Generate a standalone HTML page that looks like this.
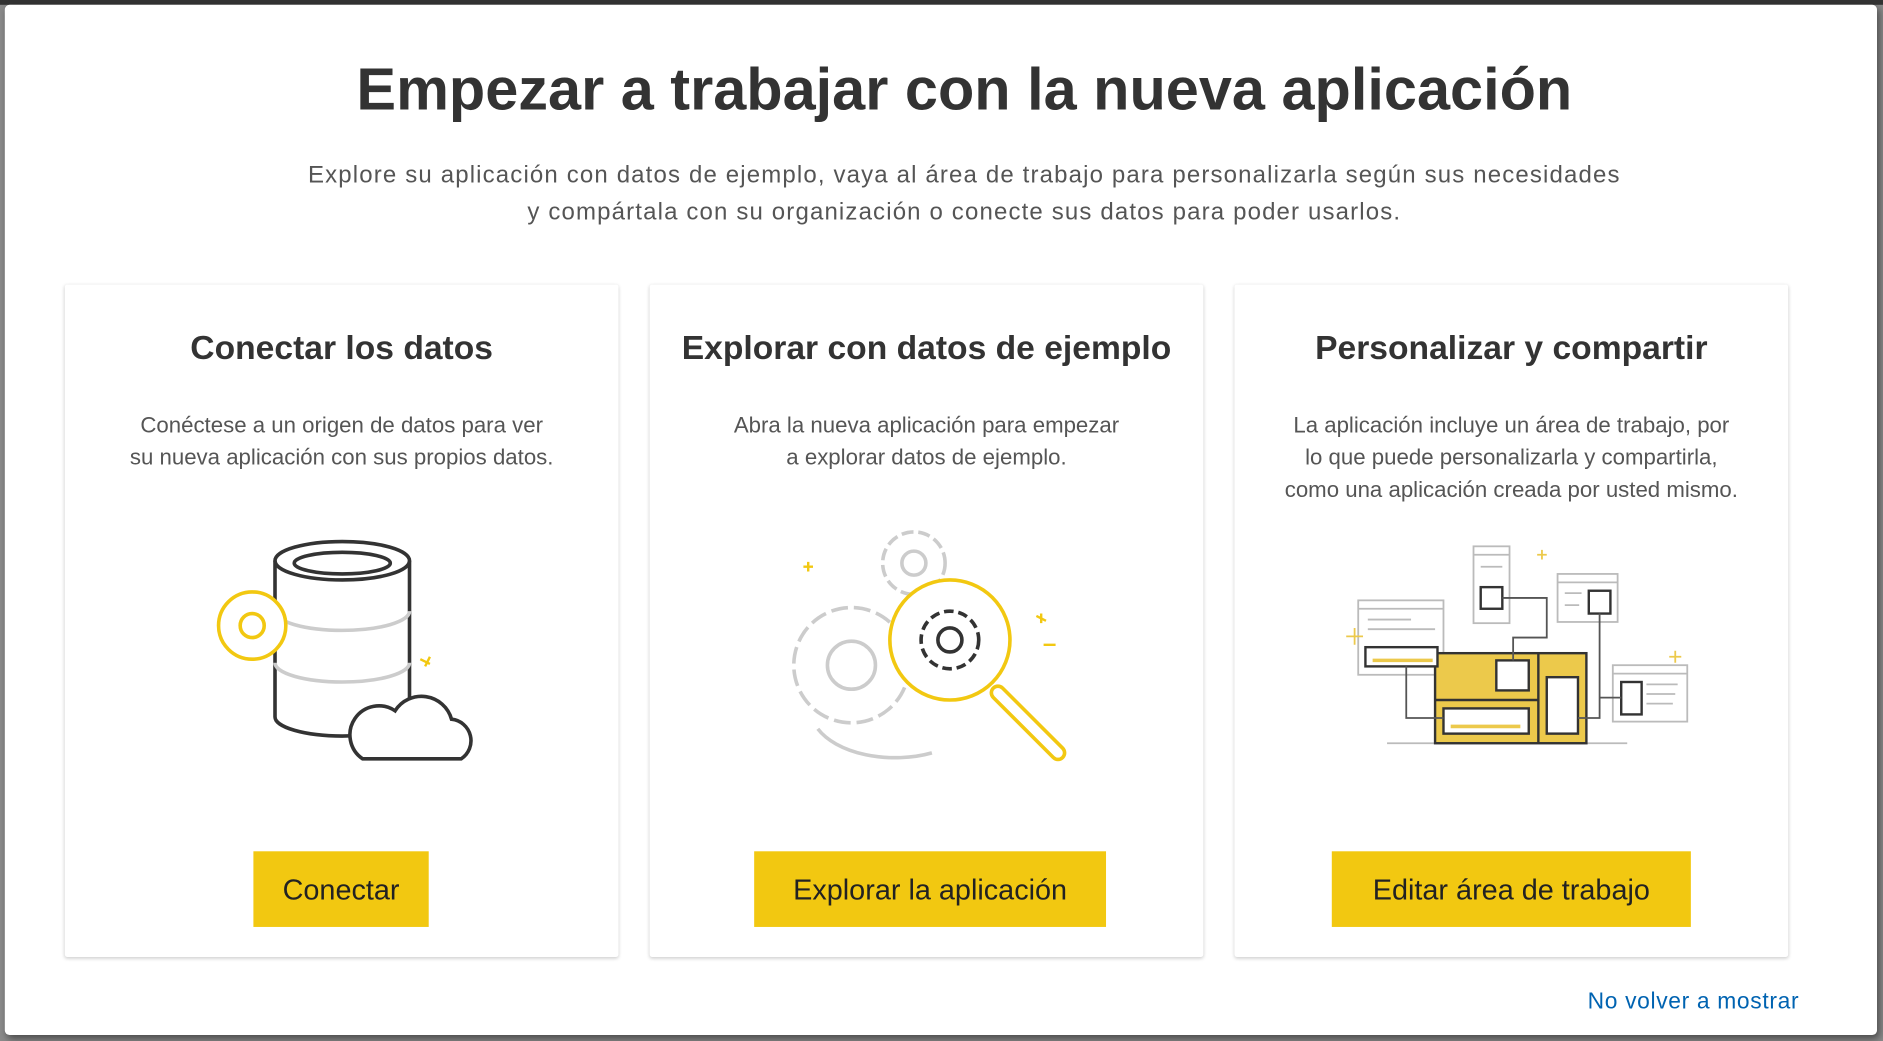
<!DOCTYPE html>
<html><head><meta charset="utf-8"><style>
html,body{margin:0;padding:0;width:1883px;height:1041px;overflow:hidden;background:#8a8a8a;}
#w{position:absolute;left:0;top:0;width:1568px;height:867px;transform:scale(1.2009,1.2007);transform-origin:0 0;font-family:"Segoe UI","Liberation Sans",sans-serif;}
.dlg{position:absolute;left:4px;top:4px;width:1559px;height:858px;background:#fff;border-radius:4px;box-shadow:2px 3px 6px rgba(0,0,0,.45);}
.t{position:absolute;left:19px;width:1568px;text-align:center;color:#333;}
.card{position:absolute;top:237px;width:461px;height:560px;background:#fff;box-shadow:0 1px 3px rgba(0,0,0,.2);border-radius:2px;}
.card h2{position:absolute;top:37px;left:0;width:100%;margin:0;text-align:center;font-size:28px;font-weight:bold;color:#333;}
.card p{position:absolute;top:103px;left:0;width:100%;margin:0;text-align:center;font-size:18.5px;line-height:27px;color:#555;}
.btn{position:absolute;top:472px;height:63px;background:#f2c811;color:#222;font-size:24px;line-height:66px;text-align:center;}
svg{position:absolute;}
</style></head><body><div id="w">
<div style="position:absolute;left:0;top:0;width:1568px;height:4px;background:#333"></div>
<div class="dlg"></div>
<div class="t" style="top:46px;font-size:49.5px;font-weight:bold;">Empezar a trabajar con la nueva aplicación</div>
<div class="t" style="top:131px;font-size:20px;line-height:31px;color:#555;letter-spacing:0.95px;">Explore su aplicación con datos de ejemplo, vaya al área de trabajo para personalizarla según sus necesidades<br>y compártala con su organización o conecte sus datos para poder usarlos.</div>

<div class="card" style="left:54px"><h2>Conectar los datos</h2><p>Conéctese a un origen de datos para ver<br>su nueva aplicación con sus propios datos.</p>
<svg style="left:110px;top:200px" width="250" height="210" viewBox="0 0 250 210">
<g fill="none" stroke="#333" stroke-width="3"><path d="M65 30 V160 A56 16 0 0 0 177 160 V30"/><ellipse cx="121" cy="30" rx="56" ry="16"/><ellipse cx="121" cy="32" rx="40" ry="9"/></g>
<g fill="none" stroke="#ccc" stroke-width="3"><path d="M65 72 A56 16 0 0 0 177 72"/><path d="M65 115 A56 16 0 0 0 177 115"/></g>
<circle cx="46" cy="84" r="28" fill="#fff" stroke="#f2c811" stroke-width="3"/><circle cx="46" cy="84" r="10" fill="none" stroke="#f2c811" stroke-width="3"/>
<path d="M138 195 H220 A18 18 0 0 0 212 162 A26 26 0 0 0 165 155 A20 20 0 0 0 138 195Z" fill="#fff" stroke="#333" stroke-width="3"/>
<path d="M190 118 l4 -8 M186 112 l8 4" stroke="#f2c811" stroke-width="2"/>
</svg>
<div class="btn" style="left:157px;width:146px">Conectar</div></div>

<div class="card" style="left:541px"><h2>Explorar con datos de ejemplo</h2><p>Abra la nueva aplicación para empezar<br>a explorar datos de ejemplo.</p>
<svg style="left:100px;top:200px" width="270" height="210" viewBox="0 0 270 210">
<g fill="none" stroke="#ccc" stroke-width="3"><circle cx="68" cy="117" r="48" stroke-dasharray="14 5"/><circle cx="68" cy="117" r="20"/><circle cx="120" cy="32" r="26" stroke-dasharray="10 4"/><circle cx="120" cy="32" r="10"/><path d="M40 170 A70 40 0 0 0 135 190"/></g>
<circle cx="150" cy="96" r="50" fill="#fff" stroke="#f2c811" stroke-width="3"/>
<circle cx="150" cy="96" r="24" fill="none" stroke="#333" stroke-width="3" stroke-dasharray="8 4"/><circle cx="150" cy="96" r="10" fill="none" stroke="#333" stroke-width="3"/>
<path d="M190 140 L240 190" stroke="#f2c811" stroke-width="14" stroke-linecap="round"/><path d="M190 140 L240 190" stroke="#fff" stroke-width="8" stroke-linecap="round"/>
<path d="M28 35 l8 0 M32 31 l0 8 M222 76 l8 4 M226 74 l0 8 M228 100 h10" stroke="#f2c811" stroke-width="2"/>
</svg>
<div class="btn" style="left:87px;width:293px">Explorar la aplicación</div></div>

<div class="card" style="left:1028px"><h2>Personalizar y compartir</h2><p>La aplicación incluye un área de trabajo, por<br>lo que puede personalizarla y compartirla,<br>como una aplicación creada por usted mismo.</p>
<svg style="left:77px;top:215px" width="310" height="175" viewBox="0 0 310 175">
<path d="M50 167 H250" stroke="#bbb" stroke-width="1.5"/>
<g fill="#fff" stroke="#bbb" stroke-width="1.5"><rect x="26" y="48" width="71" height="62"/><rect x="122" y="3" width="30" height="64"/><rect x="192" y="26" width="50" height="40"/><rect x="238" y="102" width="62" height="47"/></g>
<g stroke="#bbb" stroke-width="1.5"><path d="M26 55 H97 M122 10 H152 M192 33 H242 M238 109 H300 M34 64 H70 M34 72 H90 M128 20 H146 M198 42 H212 M198 52 H210 M266 118 H292 M266 126 H290 M266 134 H288"/></g>
<rect x="90" y="92" width="126" height="75" fill="#ecc94b" stroke="#333" stroke-width="2"/>
<path d="M176 92 V167 M90 131 H176" stroke="#333" stroke-width="2"/>
<g fill="#fff" stroke="#333" stroke-width="2"><rect x="32" y="87" width="60" height="16"/><rect x="97" y="138" width="71" height="21"/><rect x="141" y="98" width="27" height="25"/><rect x="183" y="112" width="26" height="47"/><rect x="128" y="37" width="18" height="18"/><rect x="218" y="40" width="18" height="19"/><rect x="245" y="116" width="17" height="27"/></g>
<path d="M38 98 h50 M103 153 h58" stroke="#ecc94b" stroke-width="3"/>
<path d="M66 103 V146 H97 M146 46 H183 V79 H155 V98 M227 59 V146 H209 M227 129 H245" fill="none" stroke="#555" stroke-width="1.5"/>
<path d="M16 78 h14 M23 71 v14 M285 95 h10 M290 90 v10 M175 10 h8 M179 6 v8" stroke="#ecc94b" stroke-width="1.5"/>
</svg>
<div class="btn" style="left:81px;width:299px">Editar área de trabajo</div></div>

<div style="position:absolute;left:1322px;top:824px;font-size:19px;color:#0063b1;letter-spacing:0.55px;">No volver a mostrar</div>
</div></body></html>
